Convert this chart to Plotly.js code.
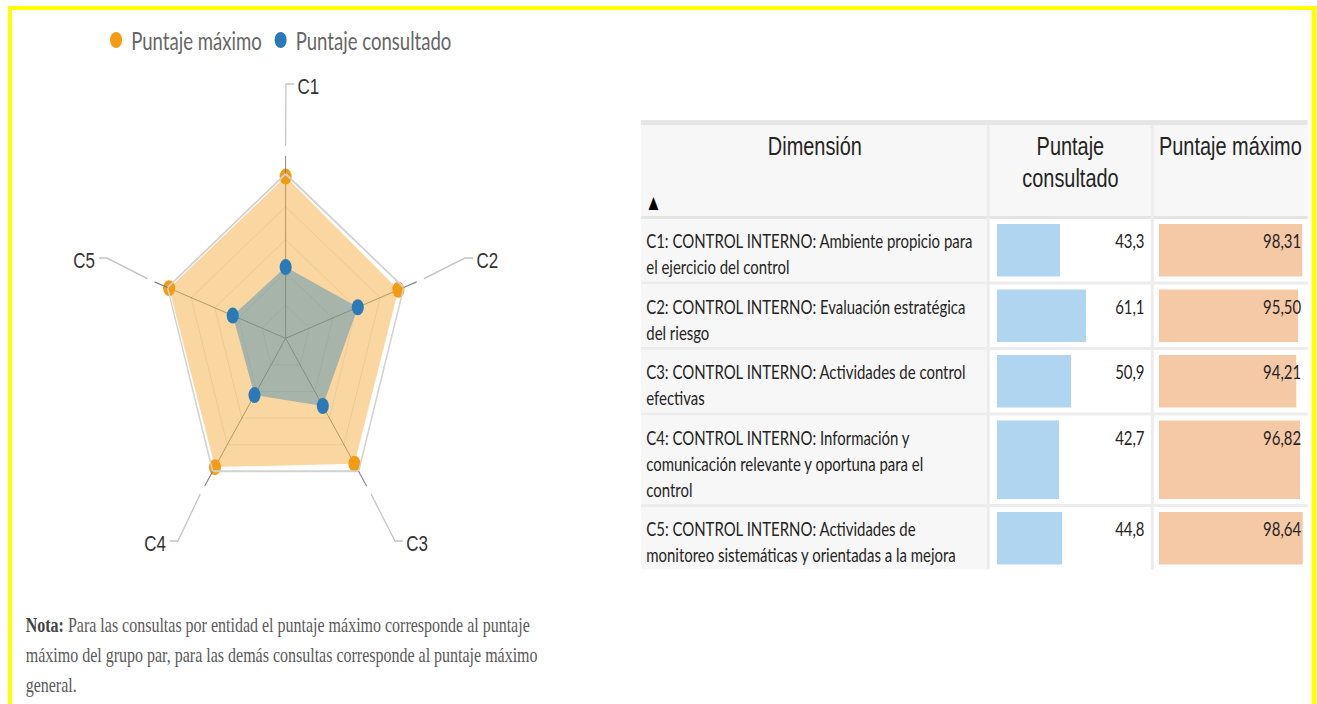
<!DOCTYPE html>
<html><head><meta charset="utf-8">
<script src="https://cdn.plot.ly/plotly-3.0.1.min.js"></script>
<style>
html,body{margin:0;padding:0;overflow:hidden;background:#fff;width:1317px;height:704px}
#wrap{width:1317px;height:704px;overflow:hidden;position:relative}
#chart{position:absolute;left:0;top:0;transform-origin:0 0}
</style></head>
<body><div id="wrap"><div id="chart"></div></div>
<script>
// ---------------- data ----------------
const axisLabels = ['C1', 'C2', 'C3', 'C4', 'C5'];
const seriesMaxName = 'Puntaje máximo';
const seriesConsName = 'Puntaje consultado';
const puntajeMaximo = [98.31, 95.50, 94.21, 96.82, 98.64];
const puntajeConsultado = [43.3, 61.1, 50.9, 42.7, 44.8];
const dimensionLabels = [
  'C1: CONTROL INTERNO: Ambiente propicio para\nel ejercicio del control',
  'C2: CONTROL INTERNO: Evaluación estratégica\ndel riesgo',
  'C3: CONTROL INTERNO: Actividades de control\nefectivas',
  'C4: CONTROL INTERNO: Información y\ncomunicación relevante y oportuna para el\ncontrol',
  'C5: CONTROL INTERNO: Actividades de\nmonitoreo sistemáticas y orientadas a la mejora'
];
const headerLabels = ['Dimensión', 'Puntaje\nconsultado', 'Puntaje máximo'];
const noteLines = [
  '<b>Nota:</b> Para las consultas por entidad el puntaje máximo corresponde al puntaje',
  'máximo del grupo par, para las demás consultas corresponde al puntaje máximo',
  'general.'
];

// ---------------- layout helpers ----------------
const W = 1317, H = 704, S = 0.755;         // reference is squeezed horizontally
const WU = W / S;
const el = document.getElementById('chart');
el.style.width = WU + 'px'; el.style.height = H + 'px';
el.style.transform = 'scaleX(' + S + ')';
const px = x => x / W;
const py = y => 1 - y / H;

const ORANGE = '#F39C12', BLUE = '#2A7AB8';
const BODY_FONT = 'Lato, "Open Sans", sans-serif';
const HEAD_FONT = '"Liberation Sans", Arial, sans-serif';
const TXT = '#252423';
const BODY_SIZE = 19.8;

// radar geometry (reference px)
const CX = 285.7, CY = 338.3, R = 164.5;
function polarPt(r, deg) {
  const a = deg * Math.PI / 180;
  return [CX + r / 100 * R * S * Math.cos(a), CY - r / 100 * R * Math.sin(a)];
}
const close = a => a.concat([a[0]]);

const traces = [
  {type: 'scatterpolar', r: close(puntajeMaximo), theta: close(axisLabels), mode: 'none',
   fill: 'toself', fillcolor: 'rgba(243,156,18,0.40)', showlegend: false, hoverinfo: 'skip'},
  {type: 'scatterpolar', r: close(puntajeConsultado), theta: close(axisLabels), mode: 'none',
   fill: 'toself', fillcolor: 'rgba(41,128,185,0.40)', showlegend: false, hoverinfo: 'skip'},
  {type: 'scatterpolar', r: puntajeMaximo, theta: axisLabels, mode: 'markers', name: seriesMaxName,
   marker: {color: ORANGE, size: 16}, hoverinfo: 'skip'},
  {type: 'scatterpolar', r: puntajeConsultado, theta: axisLabels, mode: 'markers', name: seriesConsName,
   marker: {color: BLUE, size: 16}, hoverinfo: 'skip'}
];

// ---------------- table geometry ----------------
const colEdges = [641, 989, 1153, 1308];
const tableTop = 120, headerTop = 125, headerBottom = 216, bodyTop = 219;
const LINE = 26, SEP = 3;
const rows = [];
let yy = bodyTop;
dimensionLabels.forEach(lbl => {
  const lines = lbl.split('\n');
  const h = 10.5 + LINE * lines.length;
  rows.push({top: yy, bottom: yy + h, lines});
  yy += h + SEP;
});

const shapes = [];
const annotations = [];
const rect = (x0, y0, x1, y1, color) => shapes.push({type: 'rect', xref: 'paper', yref: 'paper',
  x0: px(x0), x1: px(x1), y0: py(y1), y1: py(y0), fillcolor: color, line: {width: 0}, layer: 'below'});

// header
rect(colEdges[0], tableTop, colEdges[3], headerTop, '#e6e6e6');
rect(colEdges[0], headerTop, colEdges[3], headerBottom, '#f7f7f7');
rect(colEdges[0], headerBottom, colEdges[3], bodyTop, '#e4e4e4');
// body rows
rows.forEach((r, i) => {
  rect(colEdges[0], r.top, colEdges[1], r.bottom, '#f7f7f7');
  if (i < rows.length - 1) rect(colEdges[0], r.bottom, colEdges[3], r.bottom + SEP, '#ececec');
});
const lastBottom = rows[rows.length - 1].bottom;
[colEdges[1], colEdges[2]].forEach(x => rect(x - 2, headerTop, x + 1, lastBottom, '#ececec'));

// header texts
headerLabels.forEach((h, c) => {
  const cx = (colEdges[c] + colEdges[c + 1]) / 2;
  h.split('\n').forEach((t, k) => annotations.push({xref: 'paper', yref: 'paper', x: px(cx), y: py(146 + k * 32),
    text: t, showarrow: false, xanchor: 'center', yanchor: 'middle', font: {family: HEAD_FONT, size: 26.4, color: TXT}}));
});
annotations.push({xref: 'paper', yref: 'paper', x: px(654), y: py(202), text: '▲', showarrow: false,
  xanchor: 'center', yanchor: 'middle', font: {family: '"DejaVu Sans", sans-serif', size: 17, color: '#000'}});

// body texts
rows.forEach((r, i) => {
  r.lines.forEach((t, k) => annotations.push({xref: 'paper', yref: 'paper', x: px(645), y: py(r.top + 21 + k * LINE),
    text: t, showarrow: false, xanchor: 'left', yanchor: 'middle', font: {family: BODY_FONT, size: BODY_SIZE, color: TXT}}));
  annotations.push({xref: 'paper', yref: 'paper', x: px(1146), y: py(r.top + 21),
    text: puntajeConsultado[i].toFixed(1).replace('.', ','), showarrow: false, xanchor: 'right', yanchor: 'middle',
    font: {family: BODY_FONT, size: BODY_SIZE, color: TXT}});
  annotations.push({xref: 'paper', yref: 'paper', x: px(1303), y: py(r.top + 21),
    text: puntajeMaximo[i].toFixed(2).replace('.', ','), showarrow: false, xanchor: 'right', yanchor: 'middle',
    font: {family: BODY_FONT, size: BODY_SIZE, color: TXT}});
});

const rowCenters = rows.map(r => (r.top + r.bottom) / 2);
const barHeights = rows.map(r => r.bottom - r.top - 10);
traces.push({type: 'bar', orientation: 'h', x: puntajeConsultado, y: rowCenters, width: barHeights,
  xaxis: 'x2', yaxis: 'y2', marker: {color: '#B0D5F0', line: {width: 0}}, showlegend: false, hoverinfo: 'skip'});
traces.push({type: 'bar', orientation: 'h', x: puntajeMaximo, y: rowCenters, width: barHeights,
  xaxis: 'x3', yaxis: 'y2', marker: {color: '#F5C9A5', line: {width: 0}}, showlegend: false, hoverinfo: 'skip'});

// ---------------- radar labels + leaders ----------------
const labelAnchors = [
  {x: 296, y: 87, dir: 1, ey: 84},
  {x: 475, y: 260, dir: 1, ey: 258},
  {x: 405, y: 543, dir: 1, ey: 541},
  {x: 168, y: 543, dir: -1, ey: 541},
  {x: 97, y: 260, dir: -1, ey: 258}
];
axisLabels.forEach((lab, i) => {
  const deg = 90 - 72 * i;
  const a = labelAnchors[i];
  const p0 = polarPt(100, deg), p1 = polarPt(111, deg), p2 = polarPt(117, deg);
  const ex = a.x - a.dir * 10, hx = a.x - a.dir * 2;
  shapes.push({type: 'path', xref: 'paper', yref: 'paper', layer: 'above',
    path: `M${px(p0[0])},${py(p0[1])} L${px(p1[0])},${py(p1[1])}`, line: {color: '#7a7a7a', width: 1.2}});
  shapes.push({type: 'path', xref: 'paper', yref: 'paper', layer: 'above',
    path: `M${px(p2[0])},${py(p2[1])} L${px(ex)},${py(a.ey)} L${px(hx)},${py(a.ey)}`,
    line: {color: '#c4c4c4', width: 1.6}});
  annotations.push({xref: 'paper', yref: 'paper', x: px(a.x), y: py(a.y), text: lab, showarrow: false,
    xanchor: a.dir > 0 ? 'left' : 'right', yanchor: 'middle', font: {family: HEAD_FONT, size: 22.5, color: '#333'}});
});

// note
noteLines.forEach((t, k) => annotations.push({xref: 'paper', yref: 'paper', x: px(24), y: py(625 + k * 30),
  text: k === 0 ? t.replace('<b>Nota:</b>', '<b><span style="color:#444">Nota:</span></b>') : t,
  showarrow: false, xanchor: 'left', yanchor: 'middle',
  font: {family: '"Liberation Serif", "Times New Roman", serif', size: 21.2, color: '#595959'}}));

// yellow frame
rect(8, 6, 1317, 10, '#FFFF00');
rect(8, 6, 12, 704, '#FFFF00');
rect(1312, 6, 1317, 704, '#FFFF00');

const layout = {
  width: WU, height: H, margin: {l: 0, r: 0, t: 0, b: 0}, paper_bgcolor: '#fff', plot_bgcolor: 'rgba(0,0,0,0)',
  showlegend: true,
  legend: {orientation: 'h', x: px(101), y: py(40), xanchor: 'left', yanchor: 'middle',
    font: {family: BODY_FONT, size: 24.6, color: '#666'}, bgcolor: 'rgba(0,0,0,0)'},
  polar: {
    domain: {x: [px(CX - R * S), px(CX + R * S)], y: [py(CY + R), py(CY - R)]},
    gridshape: 'linear', bgcolor: 'rgba(0,0,0,0)',
    radialaxis: {range: [0, 100], tickvals: [20, 40, 60, 80], showticklabels: false, ticks: '', showline: false,
      gridcolor: 'rgba(0,0,0,0.10)', gridwidth: 1},
    angularaxis: {type: 'category', categoryarray: axisLabels, direction: 'clockwise', rotation: 90,
      showticklabels: false, ticks: '', gridcolor: '#858585', gridwidth: 1, showline: true, linecolor: '#d2d2d2', linewidth: 2}
  },
  xaxis2: {domain: [px(997), px(1143)], range: [0, 100], visible: false, fixedrange: true, anchor: 'y2'},
  xaxis3: {domain: [px(1159), px(1305)], range: [0, 100], visible: false, fixedrange: true, anchor: 'y2'},
  yaxis2: {domain: [0, 1], range: [H, 0], visible: false, fixedrange: true, anchor: 'x2'},
  barmode: 'overlay',
  shapes, annotations
};
Plotly.newPlot(el, traces, layout, {displayModeBar: false, staticPlot: true});
</script></body></html>
